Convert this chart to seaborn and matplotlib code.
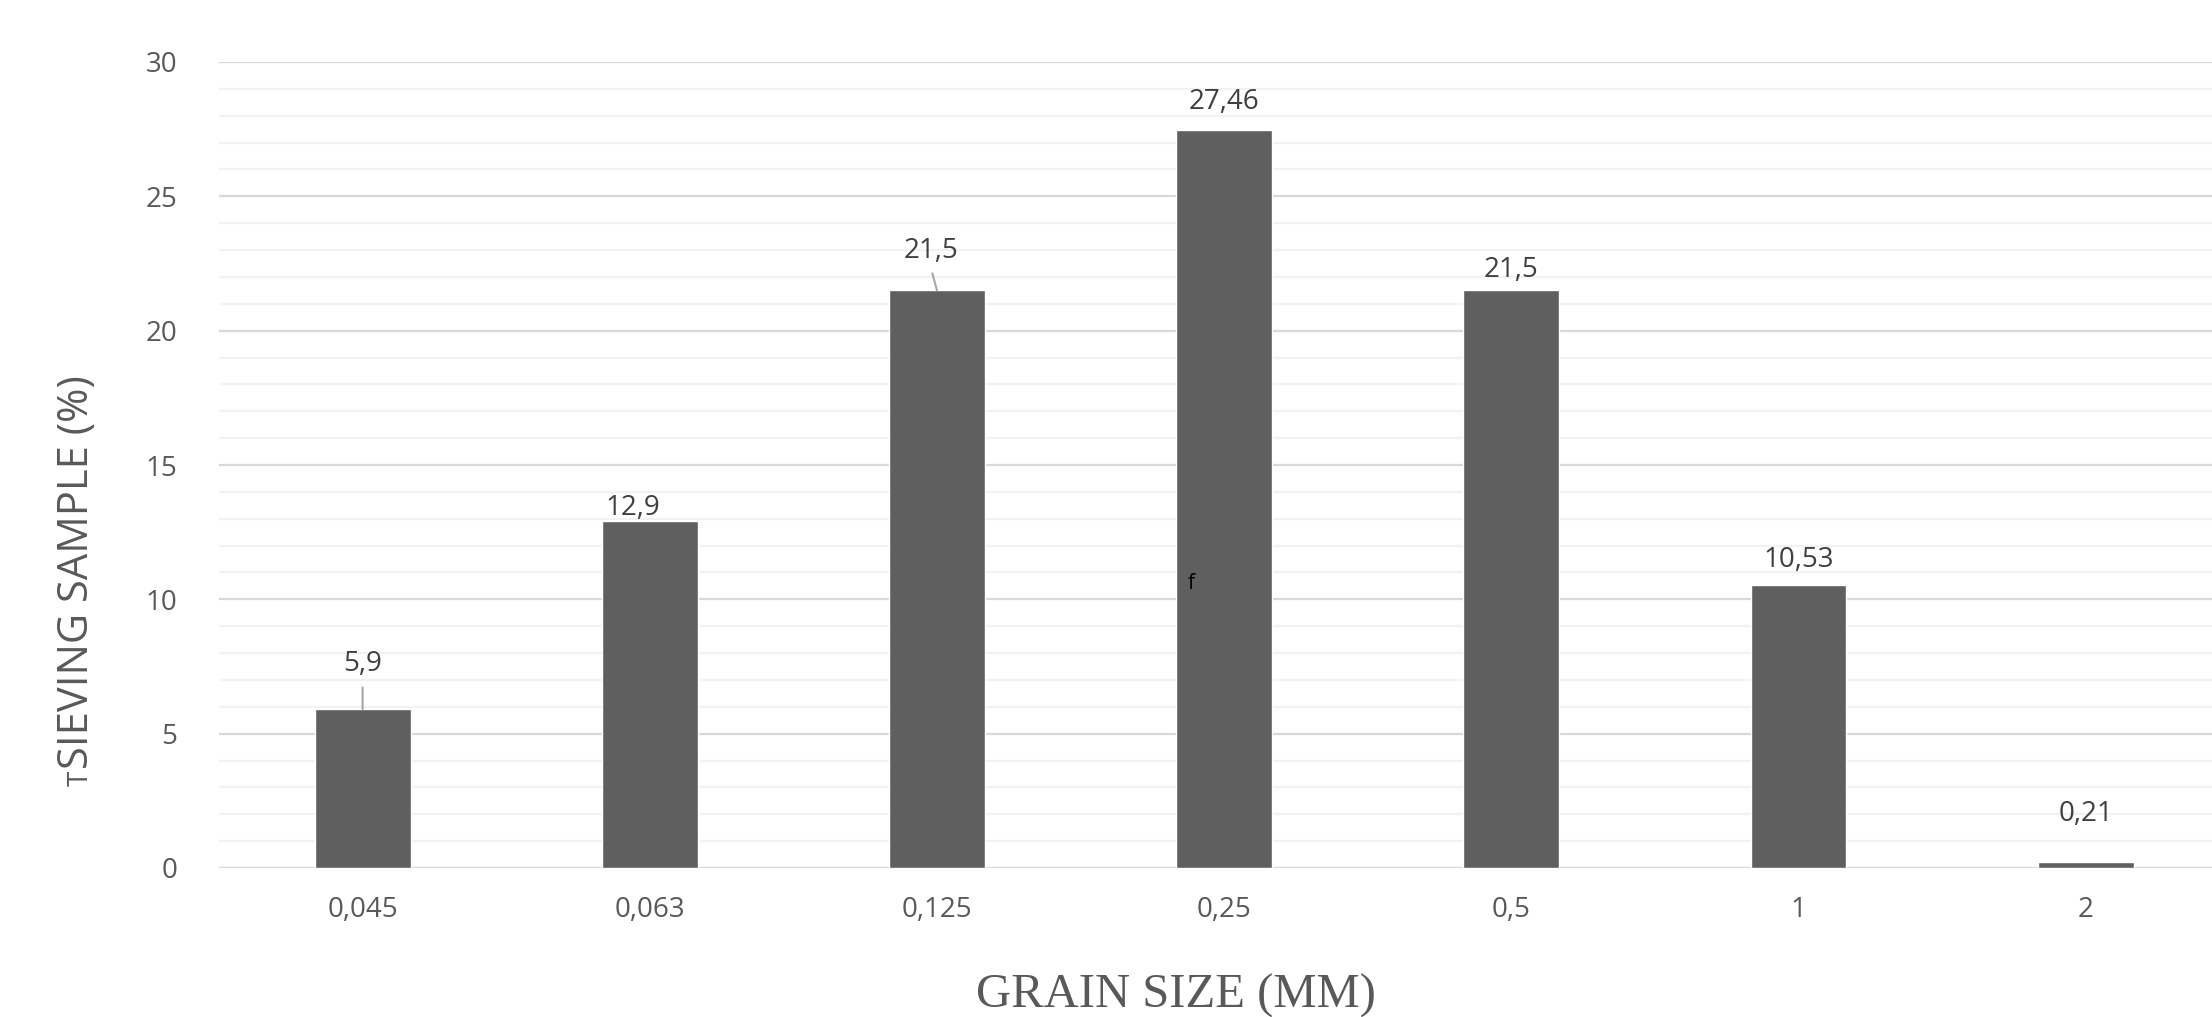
import matplotlib
matplotlib.use("Agg")
import matplotlib.pyplot as plt
import seaborn as sns
import pandas as pd

# Sieve analysis: retained fraction per grain size class
grain_sizes = ["0,045", "0,063", "0,125", "0,25", "0,5", "1", "2"]
retained_pct = [5.9, 12.9, 21.5, 27.46, 21.5, 10.53, 0.21]
value_labels = ["5,9", "12,9", "21,5", "27,46", "21,5", "10,53", "0,21"]
y_ticks = [0, 5, 10, 15, 20, 25, 30]

# label offsets from the bar top (pixels) and which labels carry a leader line
label_offsets = [(0, 45), (-17, 13), (-6, 39), (0, 28), (0, 20.5), (0, 25), (0, 48)]
leader_ends = {0: (0, 22), 2: (-4.6, 17)}

df = pd.DataFrame({"grain": grain_sizes, "pct": retained_pct})

sns.set_theme(style="white")
plt.rcParams["font.family"] = ["Open Sans", "DejaVu Sans"]

fig = plt.figure(figsize=(22.12, 10.17), dpi=100)
ax = fig.add_axes([219 / 2212, 1 - 868 / 1017, 1 - 219 / 2212, (868 - 62) / 1017])

sns.barplot(data=df, x="grain", y="pct", order=grain_sizes, color="#5f5f5f",
            saturation=1, width=0.334, ax=ax, zorder=3)

ax.set_ylim(0, 30)
ax.set_xlim(-0.5, 6.44)
ax.set_yticks(y_ticks)
ax.set_yticks(range(0, 31), minor=True)
ax.grid(axis="y", which="major", color="#d9d9d9", linewidth=1.6, zorder=0)
ax.grid(axis="y", which="minor", color="#f2f2f2", linewidth=1.6, zorder=0)
ax.set_axisbelow(True)
for side in ["top", "right", "left", "bottom"]:
    ax.spines[side].set_visible(False)
ax.axhline(0, color="#d9d9d9", linewidth=1.6, zorder=1)

ax.tick_params(axis="both", which="both", length=0, labelsize=20, labelcolor="#595959")
ax.tick_params(axis="y", pad=30)
ax.tick_params(axis="x", pad=20)
ax.set_xlabel("")
ax.set_ylabel("")

for i, (v, lab, off) in enumerate(zip(retained_pct, value_labels, label_offsets)):
    ax.annotate(lab, xy=(i, v), xytext=off, textcoords="offset pixels",
                ha="center", va="center", fontsize=20, color="#404040", zorder=5)
    if i in leader_ends:
        ax.annotate("", xy=(i, v), xytext=leader_ends[i], textcoords="offset pixels",
                    arrowprops=dict(arrowstyle="-", color="#a6a6a6", lw=1.5,
                                    shrinkA=0, shrinkB=0), zorder=5)

ax.text(2.885, 10.6, "f", fontsize=15, color="black", ha="center", va="center", zorder=6)

# axis titles
fig.text(1176 / 2212, 1 - 1008 / 1017, "GRAIN SIZE (MM)", family="Liberation Serif",
         fontsize=35, color="#595959", ha="center", va="baseline")
fig.text(88 / 2212, 1 - 769 / 1017, "SIEVING SAMPLE (%)", rotation=90,
         rotation_mode="anchor", ha="left", va="baseline", fontsize=30, color="#595959")
fig.text(88 / 2212, 1 - 786 / 1017, "T", rotation=90,
         rotation_mode="anchor", ha="left", va="baseline", fontsize=20, color="#595959")

fig.savefig("out.png", dpi=100, facecolor="white")
